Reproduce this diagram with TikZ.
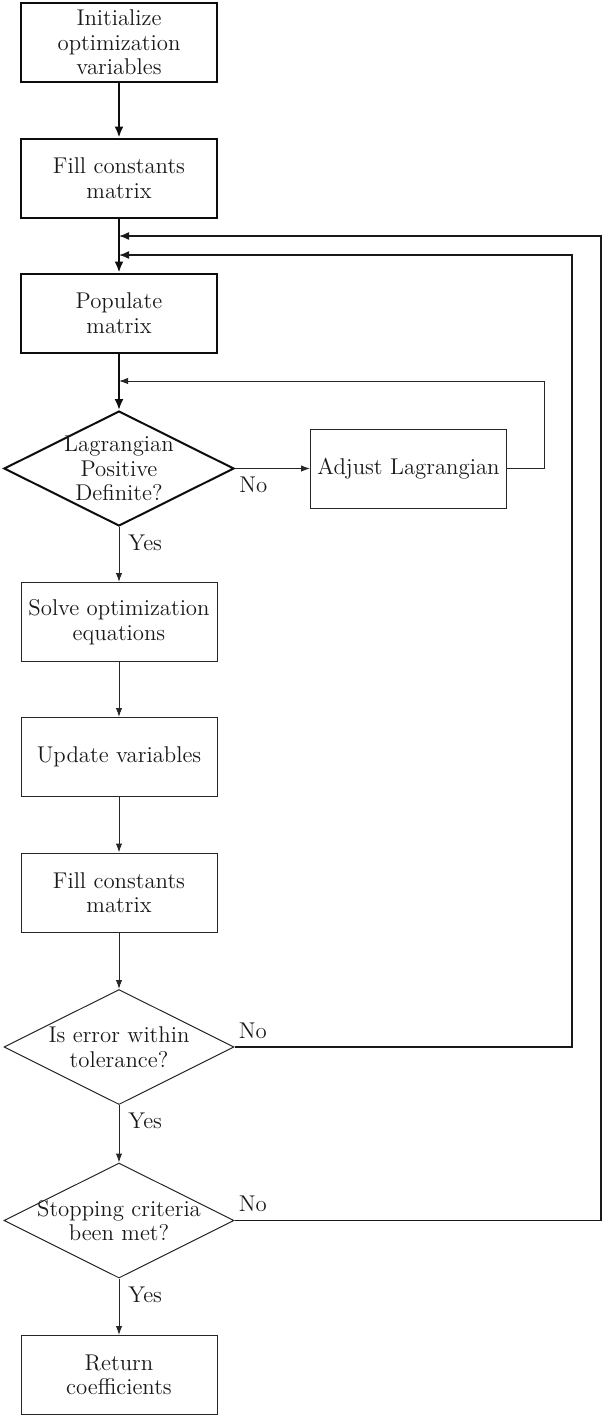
\documentclass[tikz,border=0pt]{standalone}
\usetikzlibrary{arrows.meta,shapes.geometric}

\begin{document}
\begin{tikzpicture}[x=0.5pt,y=-0.5pt,
  font=\fontsize{11.4}{12.2}\selectfont, text=black!90,
  box/.style={draw=black!85, line width=0.5pt, minimum width=98pt, minimum height=39.5pt, align=center, inner sep=1pt},
  boxthick/.style={box, draw=black!95, line width=1pt},
  decision/.style={draw=black!85, shape=diamond, line width=0.5pt, minimum width=115pt, minimum height=57.5pt, inner sep=0pt},
  flow/.style={draw=black!85, line width=0.5pt, -{Latex[length=4.5pt,width=3.2pt]}},
  flowthick/.style={draw=black!95, line width=1pt, -{Latex[length=5.5pt,width=4.5pt]}},
  flowloop/.style={draw=black!90, line width=0.7pt, -{Latex[length=5pt,width=4pt]}},
  nolbl/.style={inner xsep=2pt, inner ysep=4pt},
  yeslbl/.style={inner xsep=4.5pt, inner ysep=4pt, anchor=north west}]
\useasboundingbox (0,0) rectangle (602,1415);

% main column
\node[boxthick] (init) at (119,42.5) {Initialize\\optimization\\variables};
\node[boxthick] (fillA) at (119,178) {Fill constants\\matrix};
\node[boxthick] (pop) at (119,313) {Populate\\matrix};
\node[decision, draw=black!95, line width=1pt, label={[align=center]center:Lagrangian\\Positive\\Definite?}] (lag) at (119,468.5) {};
\node[box] (adj) at (408.5,468.5) {Adjust Lagrangian};
\node[box] (solve) at (119,622) {Solve optimization\\equations};
\node[box] (upd) at (119,757) {Update variables};
\node[box] (fillB) at (119,892.5) {Fill constants\\matrix};
\node[decision, label={[align=center]center:Is error within\\tolerance?}] (err) at (119,1047) {};
\node[decision, label={[align=center]center:Stopping criteria\\been met?}] (stop) at (119,1220.5) {};
\node[box] (ret) at (119,1375) {Return\\coefficients};

% where the loops come back in
\coordinate (inA) at (119,236);
\coordinate (inB) at (119,255);
\coordinate (inC) at (119,381);
\coordinate (cornerA) at (601,236);
\coordinate (cornerB) at (572,255);
\coordinate (cornerC) at (544,381);

% labels
\node[nolbl, anchor=north west] (nolag) at (lag.east) {No};
\node[yeslbl] (yeslag) at (lag.south) {Yes};
\node[nolbl, anchor=south west] (noerr) at (err.east) {No};
\node[yeslbl] (yeserr) at (err.south) {Yes};
\node[nolbl, anchor=south west] (nostop) at (stop.east) {No};
\node[yeslbl] (yesstop) at (stop.south) {Yes};

% arrows
\draw[flowthick] (init) -- (fillA);
\draw[flowthick] (fillA) -- (pop);
\draw[flowthick] (pop) -- (lag);
\draw[flow] (lag) -- (adj);
\draw[flow] (adj.east) -| (cornerC) -- (inC);
\draw[flow] (lag) -- (solve);
\draw[flow] (solve) -- (upd);
\draw[flow] (upd) -- (fillB);
\draw[flow] (fillB) -- (err);
\draw[flow] (err) -- (stop);
\draw[flow] (stop) -- (ret);
\draw[flowloop] (err.east) -| (cornerB) -- (inB);
\draw[flowloop] (stop.east) -| (cornerA) -- (inA);
\end{tikzpicture}
\end{document}
